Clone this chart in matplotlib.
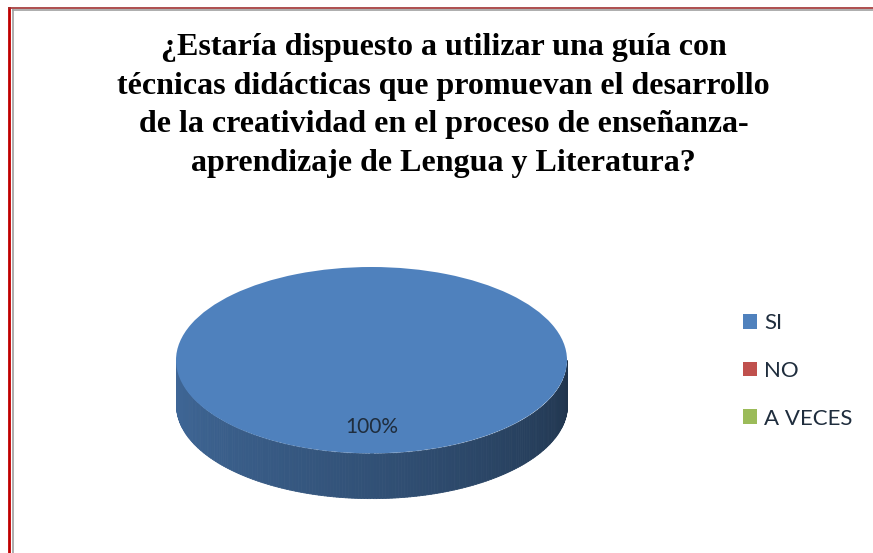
import numpy as np
import matplotlib
matplotlib.use("Agg")
from matplotlib import pyplot as plt
from matplotlib.colors import to_rgb

categories = ["SI", "NO", "A VECES"]
values = [100, 0, 0]
colors = ["#4F81BD", "#C0504D", "#9BBB59"]
title = ("¿Estaría dispuesto a utilizar una guía con\n"
         "técnicas didácticas que promuevan el desarrollo\n"
         "de la creatividad en el proceso de enseñanza-\n"
         "aprendizaje de Lengua y Literatura?")

fig = plt.figure(figsize=(8.73, 5.53), dpi=100)
fig.patch.set_facecolor("white")

# frame lines (red outer, grey inner)
fig.add_artist(plt.Line2D([9 / 873, 9 / 873], [0, 1 - 8 / 553], color="#c00000", lw=2))
fig.add_artist(plt.Line2D([9 / 873, 1], [1 - 8 / 553, 1 - 8 / 553], color="#a03030", lw=1.2))
fig.add_artist(plt.Line2D([12.5 / 873, 12.5 / 873], [0, 1 - 10 / 553], color="#a0a0a0", lw=1.2))
fig.add_artist(plt.Line2D([12.5 / 873, 1], [1 - 10 / 553, 1 - 10 / 553], color="#a0a0a0", lw=1.2))

fig.text(0.508, 1 - 33 / 553, title, ha="center", va="top", fontsize=23,
         fontweight="bold", family="Liberation Serif", linespacing=1.44)

# pie axes: x in [-1, 1], top face y in [-1, 1], side below
thick = 0.48
ax = fig.add_axes([176 / 873, 53 / 553, 391 / 873, 233 / 553])

# side of the cylinder (front half), shaded from left to right
theta = np.linspace(np.pi, 2 * np.pi, 200)
base = np.array(to_rgb(colors[0]))
for i in range(len(theta) - 1):
    t = i / (len(theta) - 2)
    shade = 0.8 - 0.4 * t ** 1.2
    c = np.clip(base * shade, 0, 1)
    xs = np.cos(theta[i:i + 2])
    ys = np.sin(theta[i:i + 2])
    ax.fill_between(xs, ys - thick, ys, color=c, lw=0.6, edgecolor=c)

wedges, texts, autotexts = ax.pie(
    values, colors=colors, startangle=90, counterclock=False,
    autopct=lambda p: f"{p:.0f}%" if p > 0 else "",
    pctdistance=0.72, wedgeprops=dict(linewidth=0),
    textprops=dict(color="#1f2d3d", fontsize=15, family="Lato"),
    frame=False)
ax.set_aspect("auto")
ax.set_xlim(-1, 1)
ax.set_ylim(-1 - thick - 0.02, 1.0)
ax.axis("off")

fig.legend(wedges, categories, loc="upper left", bbox_to_anchor=(723 / 873, 1 - 293 / 553),
           frameon=False, handlelength=0.65, handleheight=0.65, handletextpad=0.3,
           labelspacing=1.25, prop=dict(family="Lato", size=16), labelcolor="#1f2d3d")

fig.savefig("out.png", dpi=100)
